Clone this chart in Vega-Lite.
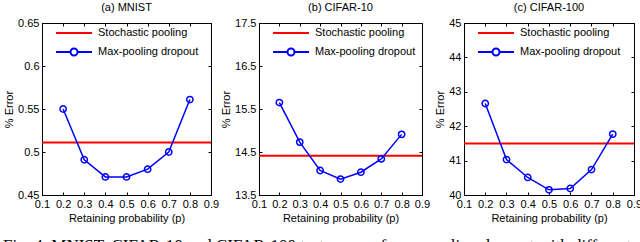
{
  "$schema": "https://vega.github.io/schema/vega-lite/v6.json",
  "datasets": {
    "d": [
      {"panel": "a", "series": "Stochastic pooling", "p": null, "err": 0.511},
      {"panel": "a", "series": "Max-pooling dropout", "p": 0.2, "err": 0.55},
      {"panel": "a", "series": "Max-pooling dropout", "p": 0.3, "err": 0.491},
      {"panel": "a", "series": "Max-pooling dropout", "p": 0.4, "err": 0.471},
      {"panel": "a", "series": "Max-pooling dropout", "p": 0.5, "err": 0.471},
      {"panel": "a", "series": "Max-pooling dropout", "p": 0.6, "err": 0.48},
      {"panel": "a", "series": "Max-pooling dropout", "p": 0.7, "err": 0.5},
      {"panel": "a", "series": "Max-pooling dropout", "p": 0.8, "err": 0.561},
      {"panel": "b", "series": "Stochastic pooling", "p": null, "err": 14.41},
      {"panel": "b", "series": "Max-pooling dropout", "p": 0.2, "err": 15.65},
      {"panel": "b", "series": "Max-pooling dropout", "p": 0.3, "err": 14.73},
      {"panel": "b", "series": "Max-pooling dropout", "p": 0.4, "err": 14.07},
      {"panel": "b", "series": "Max-pooling dropout", "p": 0.5, "err": 13.87},
      {"panel": "b", "series": "Max-pooling dropout", "p": 0.6, "err": 14.03},
      {"panel": "b", "series": "Max-pooling dropout", "p": 0.7, "err": 14.34},
      {"panel": "b", "series": "Max-pooling dropout", "p": 0.8, "err": 14.91},
      {"panel": "c", "series": "Stochastic pooling", "p": null, "err": 41.5},
      {"panel": "c", "series": "Max-pooling dropout", "p": 0.2, "err": 42.66},
      {"panel": "c", "series": "Max-pooling dropout", "p": 0.3, "err": 41.03},
      {"panel": "c", "series": "Max-pooling dropout", "p": 0.4, "err": 40.51},
      {"panel": "c", "series": "Max-pooling dropout", "p": 0.5, "err": 40.15},
      {"panel": "c", "series": "Max-pooling dropout", "p": 0.6, "err": 40.19},
      {"panel": "c", "series": "Max-pooling dropout", "p": 0.7, "err": 40.74},
      {"panel": "c", "series": "Max-pooling dropout", "p": 0.8, "err": 41.77}
    ]
  },
  "data": {"name": "d"},
  "padding": {"left": 3, "top": 1, "right": 0, "bottom": 0},
  "title": {
    "text": "Fig. 4. MNIST, CIFAR-10 and CIFAR-100 test errors of max-pooling dropout with different",
    "orient": "bottom", "anchor": "start", "font": "Liberation Serif", "fontSize": 17,
    "fontWeight": "normal", "color": "black", "offset": 14
  },
  "bounds": "flush",
  "spacing": 48,
  "resolve": {"scale": {"color": "independent"}, "legend": {"color": "independent"}},
  "hconcat": [
    {
      "width": 169, "height": 172,
      "title": {"text": "(a) MNIST"},
      "transform": [{"filter": "datum.panel === 'a'"}],
      "resolve": {"axis": {"x": "independent", "y": "independent"}},
      "layer": [
        {
          "transform": [{"filter": "datum.series === 'Stochastic pooling'"}],
          "mark": {"type": "rule", "strokeWidth": 2},
          "encoding": {
            "y": {"field": "err", "type": "quantitative", "scale": {"domain": [0.45, 0.65], "nice": false, "zero": false},
                  "axis": {"orient": "left", "title": "% Error", "values": [0.45, 0.5, 0.55, 0.6, 0.65]}},
            "color": {"field": "series", "type": "nominal",
              "scale": {"domain": ["Stochastic pooling", "Max-pooling dropout"], "range": ["#ff0000", "#0000ff"]},
              "legend": {
                "title": null, "orient": "none", "legendX": 24, "legendY": 2, "padding": 0,
                "symbolSize": 196, "labelOffset": 16, "rowPadding": 6, "labelFontSize": 11, "labelColor": "black",
                "encode": {"symbols": {"update": {
                  "shape": {"signal": "datum.value === 'Stochastic pooling' ? 'M-2.57,0H2.57' : 'M-2.57,0H-0.5A0.5,0.5 0 1,1 0.5,0A0.5,0.5 0 1,1 -0.5,0M0.5,0H2.57'"},
                  "fill": {"value": "transparent"},
                  "stroke": {"signal": "datum.value === 'Stochastic pooling' ? '#ff0000' : '#0000ff'"},
                  "strokeWidth": {"value": 2}, "opacity": {"value": 1}}}}
              }}
          }
        },
        {
          "transform": [{"filter": "datum.series === 'Max-pooling dropout'"}],
          "mark": {"type": "line", "strokeWidth": 1.5},
          "encoding": {
            "x": {"field": "p", "type": "quantitative", "scale": {"domain": [0.1, 0.9], "nice": false, "zero": false},
                  "axis": {"orient": "bottom", "title": "Retaining probability (p)", "values": [0.1, 0.2, 0.3, 0.4, 0.5, 0.6, 0.7, 0.8, 0.9]}},
            "y": {"field": "err", "type": "quantitative", "scale": {"domain": [0.45, 0.65], "nice": false, "zero": false}, "axis": null},
            "color": {"field": "series", "type": "nominal"}
          }
        },
        {
          "transform": [{"filter": "datum.series === 'Max-pooling dropout'"}],
          "mark": {"type": "point", "filled": false, "size": 40, "strokeWidth": 1.5, "opacity": 1},
          "encoding": {
            "x": {"field": "p", "type": "quantitative", "scale": {"domain": [0.1, 0.9], "nice": false, "zero": false},
                  "axis": {"orient": "top", "title": null, "labels": false, "values": [0.1, 0.2, 0.3, 0.4, 0.5, 0.6, 0.7, 0.8, 0.9]}},
            "y": {"field": "err", "type": "quantitative", "scale": {"domain": [0.45, 0.65], "nice": false, "zero": false},
                  "axis": {"orient": "right", "title": null, "labels": false, "values": [0.45, 0.5, 0.55, 0.6, 0.65]}},
            "color": {"field": "series", "type": "nominal"}
          }
        }
      ]
    },
    {
      "bounds": "flush",
      "spacing": 42,
      "resolve": {"scale": {"color": "independent"}, "legend": {"color": "independent"}},
      "hconcat": [
        {
          "width": 163, "height": 172,
          "title": {"text": "(b) CIFAR-10"},
          "transform": [{"filter": "datum.panel === 'b'"}],
          "resolve": {"axis": {"x": "independent", "y": "independent"}},
          "layer": [
            {
              "transform": [{"filter": "datum.series === 'Stochastic pooling'"}],
              "mark": {"type": "rule", "strokeWidth": 2},
              "encoding": {
                "y": {"field": "err", "type": "quantitative", "scale": {"domain": [13.5, 17.5], "nice": false, "zero": false},
                      "axis": {"orient": "left", "title": "% Error", "values": [13.5, 14.5, 15.5, 16.5, 17.5]}},
                "color": {"field": "series", "type": "nominal",
                  "scale": {"domain": ["Stochastic pooling", "Max-pooling dropout"], "range": ["#ff0000", "#0000ff"]},
                  "legend": {
                    "title": null, "orient": "none", "legendX": 24, "legendY": 2, "padding": 0,
                    "symbolSize": 196, "labelOffset": 16, "rowPadding": 6, "labelFontSize": 11, "labelColor": "black",
                    "encode": {"symbols": {"update": {
                      "shape": {"signal": "datum.value === 'Stochastic pooling' ? 'M-2.57,0H2.57' : 'M-2.57,0H-0.5A0.5,0.5 0 1,1 0.5,0A0.5,0.5 0 1,1 -0.5,0M0.5,0H2.57'"},
                      "fill": {"value": "transparent"},
                      "stroke": {"signal": "datum.value === 'Stochastic pooling' ? '#ff0000' : '#0000ff'"},
                      "strokeWidth": {"value": 2}, "opacity": {"value": 1}}}}
                  }}
              }
            },
            {
              "transform": [{"filter": "datum.series === 'Max-pooling dropout'"}],
              "mark": {"type": "line", "strokeWidth": 1.5},
              "encoding": {
                "x": {"field": "p", "type": "quantitative", "scale": {"domain": [0.1, 0.9], "nice": false, "zero": false},
                      "axis": {"orient": "bottom", "title": "Retaining probability (p)", "values": [0.1, 0.2, 0.3, 0.4, 0.5, 0.6, 0.7, 0.8, 0.9]}},
                "y": {"field": "err", "type": "quantitative", "scale": {"domain": [13.5, 17.5], "nice": false, "zero": false}, "axis": null},
                "color": {"field": "series", "type": "nominal"}
              }
            },
            {
              "transform": [{"filter": "datum.series === 'Max-pooling dropout'"}],
              "mark": {"type": "point", "filled": false, "size": 40, "strokeWidth": 1.5, "opacity": 1},
              "encoding": {
                "x": {"field": "p", "type": "quantitative", "scale": {"domain": [0.1, 0.9], "nice": false, "zero": false},
                      "axis": {"orient": "top", "title": null, "labels": false, "values": [0.1, 0.2, 0.3, 0.4, 0.5, 0.6, 0.7, 0.8, 0.9]}},
                "y": {"field": "err", "type": "quantitative", "scale": {"domain": [13.5, 17.5], "nice": false, "zero": false},
                      "axis": {"orient": "right", "title": null, "labels": false, "values": [13.5, 14.5, 15.5, 16.5, 17.5]}},
                "color": {"field": "series", "type": "nominal"}
              }
            }
          ]
        },
        {
          "width": 170, "height": 172,
          "title": {"text": "(c) CIFAR-100"},
          "transform": [{"filter": "datum.panel === 'c'"}],
          "resolve": {"axis": {"x": "independent", "y": "independent"}},
          "layer": [
            {
              "transform": [{"filter": "datum.series === 'Stochastic pooling'"}],
              "mark": {"type": "rule", "strokeWidth": 2},
              "encoding": {
                "y": {"field": "err", "type": "quantitative", "scale": {"domain": [40, 45], "nice": false, "zero": false},
                      "axis": {"orient": "left", "title": "% Error", "values": [40, 41, 42, 43, 44, 45]}},
                "color": {"field": "series", "type": "nominal",
                  "scale": {"domain": ["Stochastic pooling", "Max-pooling dropout"], "range": ["#ff0000", "#0000ff"]},
                  "legend": {
                    "title": null, "orient": "none", "legendX": 24, "legendY": 2, "padding": 0,
                    "symbolSize": 196, "labelOffset": 16, "rowPadding": 6, "labelFontSize": 11, "labelColor": "black",
                    "encode": {"symbols": {"update": {
                      "shape": {"signal": "datum.value === 'Stochastic pooling' ? 'M-2.57,0H2.57' : 'M-2.57,0H-0.5A0.5,0.5 0 1,1 0.5,0A0.5,0.5 0 1,1 -0.5,0M0.5,0H2.57'"},
                      "fill": {"value": "transparent"},
                      "stroke": {"signal": "datum.value === 'Stochastic pooling' ? '#ff0000' : '#0000ff'"},
                      "strokeWidth": {"value": 2}, "opacity": {"value": 1}}}}
                  }}
              }
            },
            {
              "transform": [{"filter": "datum.series === 'Max-pooling dropout'"}],
              "mark": {"type": "line", "strokeWidth": 1.5},
              "encoding": {
                "x": {"field": "p", "type": "quantitative", "scale": {"domain": [0.1, 0.9], "nice": false, "zero": false},
                      "axis": {"orient": "bottom", "title": "Retaining probability (p)", "values": [0.1, 0.2, 0.3, 0.4, 0.5, 0.6, 0.7, 0.8, 0.9]}},
                "y": {"field": "err", "type": "quantitative", "scale": {"domain": [40, 45], "nice": false, "zero": false}, "axis": null},
                "color": {"field": "series", "type": "nominal"}
              }
            },
            {
              "transform": [{"filter": "datum.series === 'Max-pooling dropout'"}],
              "mark": {"type": "point", "filled": false, "size": 40, "strokeWidth": 1.5, "opacity": 1},
              "encoding": {
                "x": {"field": "p", "type": "quantitative", "scale": {"domain": [0.1, 0.9], "nice": false, "zero": false},
                      "axis": {"orient": "top", "title": null, "labels": false, "values": [0.1, 0.2, 0.3, 0.4, 0.5, 0.6, 0.7, 0.8, 0.9]}},
                "y": {"field": "err", "type": "quantitative", "scale": {"domain": [40, 45], "nice": false, "zero": false},
                      "axis": {"orient": "right", "title": null, "labels": false, "values": [40, 41, 42, 43, 44, 45]}},
                "color": {"field": "series", "type": "nominal"}
              }
            }
          ]
        }
      ]
    }
  ],
  "config": {
    "font": "Liberation Sans",
    "view": {"stroke": "black", "strokeWidth": 1},
    "axis": {
      "domainColor": "black", "tickColor": "black", "labelColor": "black", "titleColor": "black",
      "labelFontSize": 11, "titleFontSize": 11, "titleFontWeight": "normal", "grid": false,
      "tickSize": -3, "labelPadding": 6, "titlePadding": 3, "labelFont": "Liberation Sans", "titleFont": "Liberation Sans",
      "labelExpr": "'' + datum.value", "labelOverlap": false, "labelFlush": false, "labelBound": false
    },
    "legend": {"labelFont": "Liberation Sans"},
    "title": {"fontSize": 11, "fontWeight": "normal", "font": "Liberation Sans", "color": "black", "offset": 4}
  }
}
